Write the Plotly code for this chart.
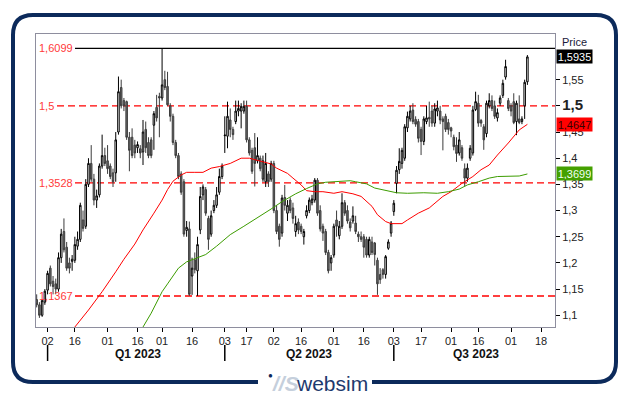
import plotly.graph_objects as go
import pandas as pd

# ---------------- data ----------------
start_date = "2022-12-27"
end_date = "2023-09-11"
holidays = ["2023-04-07", "2023-04-10", "2023-05-01", "2023-08-15"]
dates = [d.strftime("%Y-%m-%d") for d in pd.bdate_range(start_date, end_date)
         if d.strftime("%Y-%m-%d") not in holidays]

opens = [
    1.130, 1.120, 1.100, 1.125, 1.148, 1.190, 1.165, 1.160, 1.150, 1.210,
    1.260, 1.230, 1.200, 1.203, 1.205, 1.232, 1.245, 1.282, 1.270, 1.350,
    1.390, 1.360, 1.320, 1.330, 1.385, 1.405, 1.395, 1.385, 1.372, 1.372,
    1.450, 1.535, 1.510, 1.508, 1.440, 1.440, 1.425, 1.420, 1.418, 1.412,
    1.455, 1.430, 1.435, 1.463, 1.497, 1.518, 1.515, 1.550, 1.537, 1.500,
    1.480, 1.430, 1.405, 1.370, 1.355, 1.262, 1.265, 1.175, 1.206, 1.185,
    1.263, 1.330, 1.340, 1.285, 1.255, 1.300, 1.310, 1.335, 1.365, 1.443,
    1.442, 1.473, 1.455, 1.470, 1.490, 1.490, 1.490, 1.499, 1.435, 1.415,
    1.420, 1.395, 1.400, 1.360, 1.355, 1.370, 1.360, 1.390, 1.300, 1.270,
    1.257, 1.325, 1.295, 1.320, 1.305, 1.260, 1.278, 1.270, 1.250, 1.290,
    1.300, 1.315, 1.320, 1.358, 1.300, 1.270, 1.260, 1.220, 1.200, 1.215,
    1.282, 1.252, 1.270, 1.315, 1.300, 1.278, 1.280, 1.276, 1.255, 1.250,
    1.250, 1.245, 1.215, 1.240, 1.238, 1.205, 1.178, 1.187, 1.178, 1.228,
    1.257, 1.298, 1.352, 1.378, 1.390, 1.400, 1.458, 1.475, 1.492, 1.474,
    1.470, 1.455, 1.432, 1.470, 1.478, 1.490, 1.467, 1.490, 1.490, 1.475,
    1.480, 1.468, 1.458, 1.440, 1.425, 1.410, 1.420, 1.380, 1.362, 1.400,
    1.410, 1.493, 1.505, 1.472, 1.460, 1.447, 1.500, 1.510, 1.500, 1.477,
    1.505, 1.520, 1.555, 1.510, 1.500, 1.508, 1.470, 1.475, 1.470, 1.500,
    1.546,
]
highs = [
    1.140, 1.125, 1.130, 1.150, 1.185, 1.195, 1.175, 1.170, 1.220, 1.265,
    1.285, 1.240, 1.210, 1.215, 1.250, 1.260, 1.315, 1.300, 1.360, 1.400,
    1.425, 1.370, 1.340, 1.390, 1.445, 1.420, 1.425, 1.390, 1.380, 1.450,
    1.556, 1.550, 1.515, 1.510, 1.450, 1.457, 1.435, 1.432, 1.425, 1.473,
    1.470, 1.440, 1.440, 1.490, 1.521, 1.525, 1.6099, 1.567, 1.565, 1.505,
    1.485, 1.435, 1.410, 1.375, 1.360, 1.280, 1.279, 1.210, 1.220, 1.250,
    1.345, 1.350, 1.345, 1.290, 1.300, 1.320, 1.345, 1.380, 1.390, 1.480,
    1.508, 1.495, 1.460, 1.510, 1.510, 1.505, 1.510, 1.510, 1.440, 1.420,
    1.448, 1.440, 1.405, 1.405, 1.410, 1.375, 1.395, 1.395, 1.310, 1.275,
    1.330, 1.349, 1.320, 1.325, 1.315, 1.290, 1.285, 1.275, 1.265, 1.310,
    1.325, 1.330, 1.362, 1.362, 1.310, 1.275, 1.265, 1.225, 1.215, 1.275,
    1.300, 1.280, 1.333, 1.320, 1.310, 1.285, 1.308, 1.290, 1.260, 1.260,
    1.255, 1.250, 1.250, 1.250, 1.240, 1.210, 1.190, 1.190, 1.215, 1.245,
    1.280, 1.320, 1.385, 1.419, 1.420, 1.465, 1.489, 1.500, 1.505, 1.480,
    1.475, 1.460, 1.480, 1.500, 1.508, 1.500, 1.505, 1.510, 1.500, 1.480,
    1.485, 1.475, 1.460, 1.445, 1.440, 1.450, 1.425, 1.390, 1.390, 1.425,
    1.500, 1.527, 1.521, 1.475, 1.465, 1.510, 1.524, 1.520, 1.510, 1.495,
    1.520, 1.550, 1.588, 1.515, 1.505, 1.524, 1.510, 1.520, 1.480, 1.550,
    1.597,
]
lows = [
    1.115, 1.095, 1.097, 1.120, 1.140, 1.155, 1.140, 1.140, 1.145, 1.200,
    1.220, 1.185, 1.180, 1.185, 1.200, 1.225, 1.240, 1.260, 1.265, 1.345,
    1.355, 1.310, 1.305, 1.325, 1.380, 1.385, 1.370, 1.360, 1.345, 1.355,
    1.445, 1.495, 1.490, 1.435, 1.375, 1.400, 1.400, 1.410, 1.400, 1.387,
    1.410, 1.400, 1.400, 1.416, 1.470, 1.440, 1.510, 1.530, 1.500, 1.470,
    1.425, 1.400, 1.360, 1.330, 1.250, 1.250, 1.137, 1.139, 1.180, 1.137,
    1.255, 1.320, 1.290, 1.225, 1.250, 1.295, 1.305, 1.330, 1.360, 1.410,
    1.419, 1.440, 1.435, 1.465, 1.480, 1.457, 1.485, 1.430, 1.405, 1.370,
    1.346, 1.390, 1.375, 1.355, 1.345, 1.345, 1.355, 1.295, 1.255, 1.231,
    1.250, 1.300, 1.280, 1.295, 1.275, 1.250, 1.255, 1.255, 1.235, 1.285,
    1.295, 1.310, 1.315, 1.290, 1.260, 1.242, 1.215, 1.180, 1.185, 1.210,
    1.250, 1.245, 1.265, 1.290, 1.275, 1.260, 1.275, 1.255, 1.240, 1.240,
    1.210, 1.210, 1.210, 1.215, 1.195, 1.139, 1.160, 1.170, 1.170, 1.225,
    1.250, 1.290, 1.333, 1.370, 1.380, 1.395, 1.450, 1.470, 1.465, 1.460,
    1.430, 1.406, 1.425, 1.465, 1.460, 1.460, 1.460, 1.480, 1.465, 1.415,
    1.450, 1.445, 1.440, 1.415, 1.393, 1.405, 1.395, 1.346, 1.355, 1.395,
    1.405, 1.490, 1.460, 1.460, 1.416, 1.440, 1.495, 1.490, 1.475, 1.470,
    1.500, 1.515, 1.550, 1.490, 1.480, 1.465, 1.444, 1.465, 1.465, 1.475,
    1.540,
]
closes = [
    1.120, 1.100, 1.128, 1.146, 1.180, 1.160, 1.155, 1.150, 1.210, 1.255,
    1.225, 1.190, 1.190, 1.207, 1.235, 1.245, 1.310, 1.266, 1.350, 1.390,
    1.360, 1.320, 1.328, 1.385, 1.405, 1.390, 1.380, 1.365, 1.355, 1.435,
    1.527, 1.500, 1.500, 1.440, 1.415, 1.405, 1.410, 1.426, 1.410, 1.450,
    1.420, 1.405, 1.405, 1.485, 1.477, 1.515, 1.540, 1.535, 1.502, 1.480,
    1.430, 1.405, 1.365, 1.335, 1.255, 1.268, 1.140, 1.190, 1.187, 1.235,
    1.327, 1.345, 1.295, 1.245, 1.290, 1.310, 1.330, 1.365, 1.385, 1.444,
    1.480, 1.455, 1.445, 1.490, 1.495, 1.499, 1.499, 1.435, 1.410, 1.375,
    1.390, 1.405, 1.380, 1.395, 1.390, 1.355, 1.390, 1.300, 1.260, 1.245,
    1.324, 1.310, 1.310, 1.300, 1.285, 1.275, 1.263, 1.260, 1.260, 1.300,
    1.320, 1.322, 1.358, 1.295, 1.265, 1.257, 1.220, 1.185, 1.210, 1.270,
    1.270, 1.270, 1.315, 1.295, 1.280, 1.267, 1.290, 1.260, 1.250, 1.245,
    1.230, 1.215, 1.245, 1.220, 1.216, 1.160, 1.168, 1.178, 1.212, 1.240,
    1.276, 1.314, 1.377, 1.394, 1.415, 1.460, 1.480, 1.490, 1.470, 1.465,
    1.438, 1.432, 1.475, 1.477, 1.475, 1.467, 1.494, 1.496, 1.473, 1.470,
    1.455, 1.455, 1.452, 1.422, 1.409, 1.435, 1.400, 1.362, 1.381, 1.419,
    1.492, 1.508, 1.467, 1.467, 1.435, 1.505, 1.510, 1.495, 1.480, 1.487,
    1.515, 1.543, 1.575, 1.495, 1.490, 1.468, 1.505, 1.468, 1.475, 1.545,
    1.5935,
]

ma_red_dates = [
    "2023-01-02", "2023-01-16", "2023-01-23", "2023-01-30", "2023-02-06", "2023-02-09",
    "2023-02-15", "2023-02-20", "2023-02-24", "2023-03-01", "2023-03-03", "2023-03-07",
    "2023-03-10", "2023-03-14", "2023-03-17", "2023-03-22", "2023-03-27", "2023-03-30",
    "2023-04-05", "2023-04-13", "2023-04-18", "2023-04-24", "2023-04-28", "2023-05-03",
    "2023-05-09", "2023-05-11", "2023-05-16", "2023-05-18", "2023-05-23", "2023-05-26",
    "2023-06-01", "2023-06-06", "2023-06-12", "2023-06-15", "2023-06-19", "2023-06-21",
    "2023-06-23", "2023-06-28", "2023-06-30", "2023-07-06", "2023-07-10", "2023-07-14",
    "2023-07-20", "2023-07-24", "2023-07-27", "2023-08-01", "2023-08-07", "2023-08-11",
    "2023-08-17", "2023-08-22", "2023-08-25", "2023-08-31", "2023-09-06", "2023-09-11",
]
ma_red_values = [
    1.022, 1.0776, 1.110, 1.145, 1.183, 1.207,
    1.236, 1.263, 1.295, 1.320, 1.340, 1.356,
    1.368, 1.373, 1.373, 1.373, 1.381, 1.384,
    1.390, 1.400, 1.400, 1.394, 1.389, 1.381,
    1.371, 1.362, 1.349, 1.338, 1.336, 1.336,
    1.333, 1.336, 1.332, 1.327, 1.317, 1.308,
    1.292, 1.279, 1.275, 1.275, 1.282, 1.295,
    1.305, 1.314, 1.327, 1.336, 1.352, 1.365,
    1.378, 1.387, 1.406, 1.429, 1.454, 1.4647,
]

ma_green_dates = [
    "2023-02-13", "2023-02-20", "2023-02-23", "2023-03-01", "2023-03-03", "2023-03-09",
    "2023-03-14", "2023-03-17", "2023-03-23", "2023-03-29", "2023-04-05", "2023-04-14",
    "2023-04-21", "2023-04-28", "2023-05-05", "2023-05-12", "2023-05-18", "2023-05-24",
    "2023-05-29", "2023-06-02", "2023-06-09", "2023-06-13", "2023-06-19", "2023-06-22",
    "2023-06-28", "2023-07-04", "2023-07-10", "2023-07-18", "2023-07-25", "2023-07-31",
    "2023-08-04", "2023-08-09", "2023-08-16", "2023-08-22", "2023-08-25", "2023-08-31",
    "2023-09-06", "2023-09-11",
]
ma_green_values = [
    1.045, 1.0776, 1.104, 1.145, 1.160, 1.190,
    1.202, 1.208, 1.216, 1.232, 1.254, 1.270,
    1.286, 1.303, 1.317, 1.332, 1.342, 1.351,
    1.354, 1.355, 1.357, 1.355, 1.351, 1.343,
    1.338, 1.334, 1.333, 1.334, 1.333, 1.336,
    1.341, 1.349, 1.355, 1.362, 1.365, 1.366,
    1.366, 1.3699,
]

levels = [1.6099, 1.5, 1.3528, 1.1367]

tick_dates = ["2023-01-02", "2023-01-16", "2023-02-01", "2023-02-16", "2023-03-01", "2023-03-16",
              "2023-04-03", "2023-04-17", "2023-05-02", "2023-05-16", "2023-06-01", "2023-06-16",
              "2023-07-03", "2023-07-17", "2023-08-01", "2023-08-16", "2023-09-01", "2023-09-18"]
tick_labels = ["02", "16", "01", "16", "01", "16", "03", "17", "02", "16", "01", "16",
               "03", "17", "01", "16", "01", "18"]

quarter_starts = ["2023-01-02", "2023-04-03", "2023-07-03"]
quarter_label_dates = ["2023-02-16", "2023-05-19", "2023-08-14"]
quarter_labels = ["Q1 2023", "Q2 2023", "Q3 2023"]

y_ticks = [1.1, 1.15, 1.2, 1.25, 1.3, 1.35, 1.4, 1.45, 1.5, 1.55]

assert len(dates) == len(opens) == len(highs) == len(lows) == len(closes)

# ---------------- helpers ----------------
def fmt(v, nd=None):
    s = ("%g" % v) if nd is None else (("%." + str(nd) + "f") % v)
    return s.replace(".", ",")

ML, MR, MT, MB = 36, 74, 34, 68
W, H = 629, 395
PW, PH = W - ML - MR, H - MT - MB

def px(xp):
    return (xp - ML) / PW

def py(yp):
    return (H - MB - yp) / PH

FONT = "Liberation Sans, Arial, sans-serif"
NAVY = "#0c2a5b"

# ---------------- figure ----------------
fig = go.Figure()
fig.add_trace(go.Candlestick(
    x=dates, open=opens, high=highs, low=lows, close=closes,
    increasing=dict(line=dict(color="#000000", width=1), fillcolor="#ffffff"),
    decreasing=dict(line=dict(color="#3c3c3c", width=1), fillcolor="#6a6a6a"),
    whiskerwidth=0, hoverinfo="skip", showlegend=False,
))
fig.add_trace(go.Scatter(x=ma_red_dates, y=ma_red_values, mode="lines",
                         line=dict(color="#ff0000", width=1), hoverinfo="skip", showlegend=False))
fig.add_trace(go.Scatter(x=ma_green_dates, y=ma_green_values, mode="lines",
                         line=dict(color="#3c9c00", width=1), hoverinfo="skip", showlegend=False))

shapes = []
annotations = []

# level lines + labels
for i, lv in enumerate(levels):
    label = fmt(lv)
    x0 = px(57) if label == "1,5" else px(75)
    if i == 0:
        line = dict(color="#000000", width=1.2)
    else:
        line = dict(color="#ff0000", width=1.4, dash="7px,4px")
    shapes.append(dict(type="line", xref="paper", yref="y", x0=x0, x1=1, y0=lv, y1=lv,
                       line=line, layer="below"))
    annotations.append(dict(xref="paper", yref="y", x=px(37), y=lv, xanchor="left", yanchor="middle",
                            text=label, showarrow=False,
                            font=dict(family=FONT, size=11, color="#ff3a3a")))

# quarter separators and labels
for qd in quarter_starts:
    shapes.append(dict(type="line", xref="x", yref="paper", x0=qd, x1=qd, y0=py(345), y1=py(361),
                       line=dict(color="#000000", width=1.5)))
for qd, ql in zip(quarter_label_dates, quarter_labels):
    annotations.append(dict(xref="x", yref="paper", x=qd, y=py(354), xanchor="center", yanchor="middle",
                            text="<b>" + ql + "</b>", showarrow=False,
                            font=dict(family=FONT, size=12, color="#111111")))

# value badges on the right axis
badges = [
    (closes[-1], "#000000", "#ffffff"),
    (ma_red_values[-1], "#ff0000", "#3a0000"),
    (ma_green_values[-1], "#44a000", "#f0fff0"),
]
for val, bg, fc in badges:
    annotations.append(dict(xref="paper", yref="y", x=px(556), y=val, xanchor="left", yanchor="middle",
                            text=fmt(val, 4), showarrow=False, bgcolor=bg, borderpad=1,
                            width=33, height=11, align="center",
                            font=dict(family=FONT, size=11, color=fc)))

annotations.append(dict(xref="paper", yref="paper", x=px(560), y=py(42), xanchor="left", yanchor="middle",
                        text="Price", showarrow=False, font=dict(family=FONT, size=11, color="#1a1a3a")))

# outer rounded frame (with gap for logo)
L, R, T, B, rad = 13, 616, 15, 382, 20
gap_l, gap_r = 258, 372
path = (f"M {px(gap_l)},{py(B)} L {px(L + rad)},{py(B)} Q {px(L)},{py(B)} {px(L)},{py(B - rad)} "
        f"L {px(L)},{py(T + rad)} Q {px(L)},{py(T)} {px(L + rad)},{py(T)} "
        f"L {px(R - rad)},{py(T)} Q {px(R)},{py(T)} {px(R)},{py(T + rad)} "
        f"L {px(R)},{py(B - rad)} Q {px(R)},{py(B)} {px(R - rad)},{py(B)} L {px(gap_r)},{py(B)}")
shapes.append(dict(type="path", xref="paper", yref="paper", path=path,
                   line=dict(color=NAVY, width=4)))

# logo
annotations.append(dict(xref="paper", yref="paper", x=px(270), y=py(375), xanchor="center", yanchor="middle",
                        text="●", showarrow=False, font=dict(family=FONT, size=8, color=NAVY)))
annotations.append(dict(xref="paper", yref="paper", x=px(285), y=py(383), xanchor="center", yanchor="middle",
                        text="<b><i>//S</i></b>", showarrow=False,
                        font=dict(family=FONT, size=21, color="#c5cfdc")))
annotations.append(dict(xref="paper", yref="paper", x=px(332), y=py(383), xanchor="center", yanchor="middle",
                        text="websim", showarrow=False,
                        font=dict(family="Liberation Sans Narrow, " + FONT, size=21, color="#1e3a6e")))

y_text = []
for v in y_ticks:
    if abs(v - 1.5) < 1e-9:
        y_text.append("<b><span style='font-size:15px'>" + fmt(v) + "</span></b>")
    else:
        y_text.append(fmt(v))

fig.update_layout(
    width=W, height=H,
    margin=dict(l=ML, r=MR, t=MT, b=MB, pad=0),
    paper_bgcolor="#ffffff", plot_bgcolor="#ffffff",
    showlegend=False,
    boxgap=0.2,
    font=dict(family=FONT, size=11, color="#222222"),
    xaxis=dict(
        type="date",
        range=["2022-12-26 18:00", "2023-09-25 03:00"],
        rangebreaks=[dict(bounds=["sat", "mon"]), dict(values=holidays)],
        tickmode="array", tickvals=tick_dates, ticktext=tick_labels,
        ticks="outside", ticklen=4, tickcolor="#000000", tickwidth=1,
        tickfont=dict(family=FONT, size=11, color="#222222"),
        showgrid=False, zeroline=False,
        showline=True, linecolor="#8e8e9e", linewidth=1, mirror=True,
        rangeslider=dict(visible=False), automargin=False, fixedrange=True,
    ),
    yaxis=dict(
        side="right",
        range=[1.0776, 1.6372],
        tickmode="array", tickvals=y_ticks, ticktext=y_text,
        ticks="outside", ticklen=4, tickcolor="#000000", tickwidth=1,
        tickfont=dict(family=FONT, size=11, color="#222222"),
        showgrid=False, zeroline=False,
        showline=True, linecolor="#8e8e9e", linewidth=1, mirror=True,
        automargin=False, fixedrange=True,
    ),
    shapes=shapes,
    annotations=annotations,
)

fig.write_html("out.html", config=dict(displayModeBar=False),
               post_script="document.body.style.margin='0';document.body.style.padding='0';")
